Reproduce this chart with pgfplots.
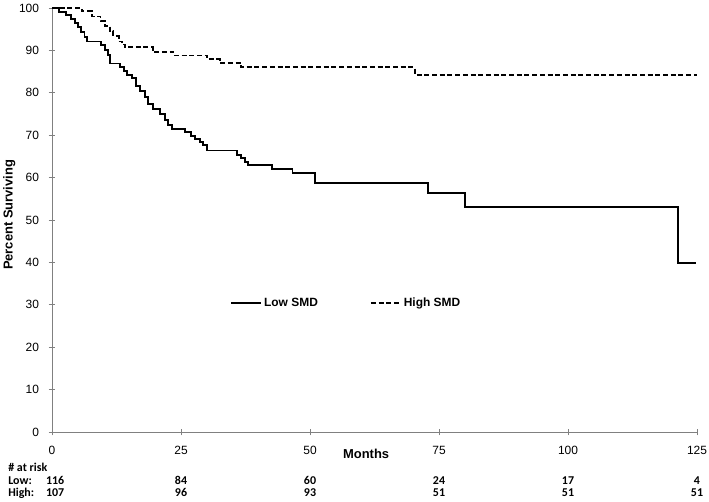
\documentclass[border=0pt]{standalone}
\usepackage{fontspec}
\setmainfont{Liberation Sans}
\newfontfamily\calibri{Carlito}
\usepackage{pgfplots}
\pgfplotsset{compat=1.18}
\pgfplotstableread{
x y
0 100
1.4 99.1
2.8 98.3
3.6 97.3
4.4 96.5
5.0 95.6
5.7 94.3
6.3 93.2
6.8 92.1
9.5 91.3
10.3 90.1
10.8 88.9
11.3 86.9
13.2 86.1
14.0 85.2
14.6 84.2
15.5 83.4
16.3 81.5
17.0 80.5
18.0 79.0
18.6 77.4
19.6 76.2
20.9 75.1
21.9 73.5
22.5 72.3
23.2 71.4
25.8 70.7
27.0 69.9
27.7 69.2
28.7 68.4
29.3 67.6
30.0 66.4
35.9 65.4
36.7 64.6
37.4 63.6
38.0 62.9
42.6 62.0
46.6 61.0
51.0 58.8
72.9 56.4
80.1 53.0
121.3 39.8
124.9 39.8
}\lowsmd
\pgfplotstableread{
x y
0 100
5.8 99.2
7.7 98.0
9.4 96.9
10.3 95.7
11.3 94.5
11.9 93.3
12.9 92.1
13.5 91.4
14.1 90.7
19.5 89.6
23.5 88.8
30.1 87.9
32.5 87.0
36.7 86.0
70.3 84.3
125 84.3
}\highsmd
\begin{document}
\begin{tikzpicture}
\path[use as bounding box] (0,0) rectangle (709bp,502bp);
\begin{axis}[
  at={(52bp,70bp)}, anchor=south west,
  scale only axis, width=645bp, height=424bp,
  xmin=0, xmax=125, ymin=0, ymax=100,
  axis lines=left,
  axis line style={-, draw=gray, line width=0.8bp},
  xtick={0,25,...,125}, ytick={0,10,...,100},
  tick align=center, major tick length=7bp,
  tick style={draw=gray, line width=0.8bp},
  /pgf/number format/assume math mode=true,
  tick label style={font=\fontsize{12}{14}\selectfont, text=black},
  xticklabel style={yshift=-7bp},
  yticklabel style={xshift=-6bp},
  xlabel={Months}, ylabel={Percent Surviving},
  xlabel style={font=\bfseries\fontsize{13}{15}\selectfont, at={(axis description cs:0.487,-0.0507)}, anchor=center},
  ylabel style={font=\bfseries\fontsize{13}{15}\selectfont, at={(axis description cs:-0.061,0.512)}, anchor=base},
  clip=false,
  legend columns=2,
  legend style={at={(axis cs:34.5,30.4)}, anchor=west, draw=none, fill=none, inner sep=0pt,
    font=\bfseries\fontsize{12}{14}\selectfont,
    nodes={inner xsep=2bp},
    /tikz/every even column/.append style={column sep=50bp}},
  legend image code/.code={\draw[#1] (0bp,0bp) -- (30bp,0bp);},
]
\addplot[const plot, black, line width=1.9bp] table {\lowsmd};
\addlegendentry{Low SMD}
\addplot[const plot, black, line width=1.9bp, dash pattern=on 5bp off 2.7bp] table {\highsmd};
\addlegendentry{High SMD}
\begin{scope}[every node/.style={font=\calibri\bfseries\fontsize{12}{14}\selectfont, inner sep=0pt}]
\node[anchor=base west] at (axis cs:-8.5,-9.2) {\# at risk};
\node[anchor=base west] at (axis cs:-8.5,-12.4) {Low:};
\node[anchor=base west] at (axis cs:-8.5,-15.1) {High:};
\node[anchor=base] at (axis cs:0.6,-12.4) {116};
\node[anchor=base] at (axis cs:25,-12.4) {84};
\node[anchor=base] at (axis cs:50,-12.4) {60};
\node[anchor=base] at (axis cs:75,-12.4) {24};
\node[anchor=base] at (axis cs:100,-12.4) {17};
\node[anchor=base] at (axis cs:125,-12.4) {4};
\node[anchor=base] at (axis cs:0.6,-15.1) {107};
\node[anchor=base] at (axis cs:25,-15.1) {96};
\node[anchor=base] at (axis cs:50,-15.1) {93};
\node[anchor=base] at (axis cs:75,-15.1) {51};
\node[anchor=base] at (axis cs:100,-15.1) {51};
\node[anchor=base] at (axis cs:125,-15.1) {51};
\end{scope}
\end{axis}
\end{tikzpicture}
\end{document}
